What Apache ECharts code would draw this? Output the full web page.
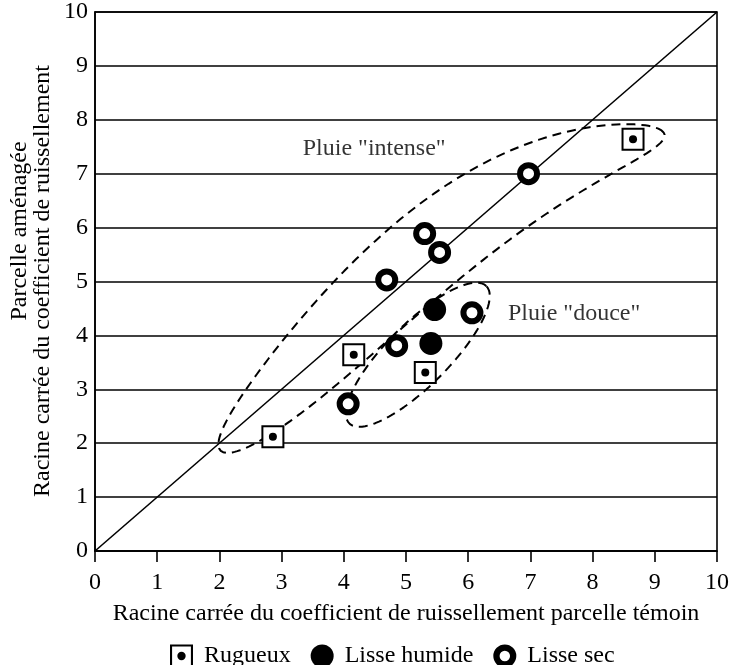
<!DOCTYPE html>
<html>
<head>
    <meta charset="UTF-8">
    <title>Coefficient de ruissellement</title>
    <script src="https://cdn.jsdelivr.net/npm/echarts@6/dist/echarts.min.js"></script>
    <style>
        html, body { margin: 0; padding: 0; background: #fff; }
        #chart { width: 733px; height: 665px; }
    </style>
</head>
<body>
<div id="chart"></div>
<script>
    // points [témoin, aménagée]
    var rugueux = [[2.86, 2.12], [4.16, 3.64], [5.31, 3.31], [8.65, 7.64]];
    var lisseHumide = [[5.46, 4.48], [5.40, 3.85]];
    var lisseSec = [[6.97, 7.00], [5.30, 5.89], [5.54, 5.54], [4.69, 5.03], [6.06, 4.42], [4.85, 3.81], [4.07, 2.73]];
    var diagonale = [[0, 0], [10, 10]];

    // textes des deux zones et leur point d'ancrage
    var zoneNoms = ['Pluie "intense"', 'Pluie "douce"'];
    var zoneTextes = [[3.34, 7.47], [6.64, 4.41]];

    // contours pointillés : centre, demi-axes, courbure
    var zoneIntense = {c: [5.575, 4.821], a: [3.567, 2.944], b: [-0.392, 0.635], bend: 0.952, skew: 0.55};
    var zoneDouce = {c: [5.190, 3.641], a: [1.102, 1.274], b: [-0.352, 0.407], bend: 0, skew: 0};

    function contour(z) {
        var pts = [];
        for (var i = 0; i <= 200; i++) {
            var t = i / 200 * 2 * Math.PI;
            var c = Math.cos(t), s = Math.sin(t);
            var w = s + z.bend * s * s * (1 + z.skew * c);
            pts.push([z.c[0] + c * z.a[0] + w * z.b[0], z.c[1] + c * z.a[1] + w * z.b[1]]);
        }
        return pts;
    }

    var police = '"Liberation Serif", "Times New Roman", serif';
    var iconCarre = 'path://M0,0H22V22H0Z M2,2V20H20V2Z M11,7A4,4 0 1 1 11,15A4,4 0 1 1 11,7Z';
    var iconAnneau = 'path://M11,0A11,11 0 1 1 11,22A11,11 0 1 1 11,0Z M11,6A5,5 0 1 0 11,16A5,5 0 1 0 11,6Z';

    var myChart = echarts.init(document.getElementById('chart'));
    var option = {
        backgroundColor: '#fff',
        animation: false,
        textStyle: {fontFamily: police, color: '#000'},
        grid: {
            left: 95, right: 16, top: 12, bottom: 114,
            show: true, borderColor: '#000', borderWidth: 1.6
        },
        xAxis: {
            type: 'value', min: 0, max: 10, interval: 1,
            name: 'Racine carrée du coefficient de ruissellement parcelle témoin',
            nameLocation: 'middle', nameGap: 51,
            nameTextStyle: {fontSize: 24, color: '#000', fontFamily: police},
            axisLine: {show: true, lineStyle: {color: '#000', width: 1.6}},
            axisTick: {show: true, inside: false, length: 11, lineStyle: {color: '#000', width: 1.6}},
            axisLabel: {fontSize: 24, color: '#000', margin: 20, fontFamily: police},
            splitLine: {show: false}
        },
        yAxis: {
            type: 'value', min: 0, max: 10, interval: 1,
            axisLine: {show: true, lineStyle: {color: '#000', width: 1.6}},
            axisTick: {show: false},
            axisLabel: {fontSize: 24, color: '#000', margin: 7, fontFamily: police},
            splitLine: {show: true, lineStyle: {color: '#000', width: 1.6}}
        },
        legend: {
            left: 165, top: 639,
            itemWidth: 23, itemHeight: 23, itemGap: 20,
            textStyle: {fontSize: 24, color: '#000', fontFamily: police, padding: [0, 0, 0, 6]},
            data: [
                {name: 'Rugueux', icon: iconCarre, itemStyle: {color: '#000', borderWidth: 0}},
                {name: 'Lisse humide', icon: 'circle', itemStyle: {color: '#000', borderWidth: 0}},
                {name: 'Lisse sec', icon: iconAnneau, itemStyle: {color: '#000', borderWidth: 0}}
            ]
        },
        graphic: [
            {
                type: 'text', x: 20, y: 231, rotation: Math.PI / 2,
                style: {text: 'Parcelle aménagée', fontSize: 24, fontFamily: police, fill: '#000', align: 'center', verticalAlign: 'middle'}
            },
            {
                type: 'text', x: 43, y: 281, rotation: Math.PI / 2,
                style: {text: 'Racine carrée du coefficient de ruissellement', fontSize: 24, fontFamily: police, fill: '#000', align: 'center', verticalAlign: 'middle'}
            }
        ],
        series: [
            {
                name: 'diagonale', type: 'line', data: diagonale, showSymbol: false, silent: true, z: 1,
                lineStyle: {color: '#000', width: 1.6}
            },
            {
                name: 'zone intense', type: 'line', data: contour(zoneIntense), showSymbol: false, silent: true, z: 2,
                lineStyle: {color: '#000', width: 2, type: [9, 6]}
            },
            {
                name: 'zone douce', type: 'line', data: contour(zoneDouce), showSymbol: false, silent: true, z: 2,
                lineStyle: {color: '#000', width: 2, type: [9, 6]}
            },
            {
                name: 'textes', type: 'scatter', symbolSize: 0, silent: true, z: 3,
                data: zoneTextes.map(function (p, i) { return {value: p, name: zoneNoms[i]}; }),
                label: {
                    show: true, position: 'right', distance: 0, formatter: '{b}',
                    fontSize: 24, color: '#000', fontFamily: police
                }
            },
            {
                name: 'Rugueux', type: 'scatter', data: rugueux, symbol: 'rect', symbolSize: 21, z: 5,
                itemStyle: {color: '#fff', borderColor: '#000', borderWidth: 2, opacity: 1}
            },
            {
                name: 'Rugueux', type: 'scatter', data: rugueux, symbol: 'circle', symbolSize: 8, z: 6,
                itemStyle: {color: '#000', opacity: 1}
            },
            {
                name: 'Lisse humide', type: 'scatter', data: lisseHumide, symbol: 'circle', symbolSize: 23, z: 5,
                itemStyle: {color: '#000', opacity: 1}
            },
            {
                name: 'Lisse sec', type: 'scatter', data: lisseSec, symbol: 'circle', symbolSize: 17, z: 5,
                itemStyle: {color: '#fff', borderColor: '#000', borderWidth: 6, opacity: 1}
            }
        ]
    };
    myChart.setOption(option);
</script>
</body>
</html>
